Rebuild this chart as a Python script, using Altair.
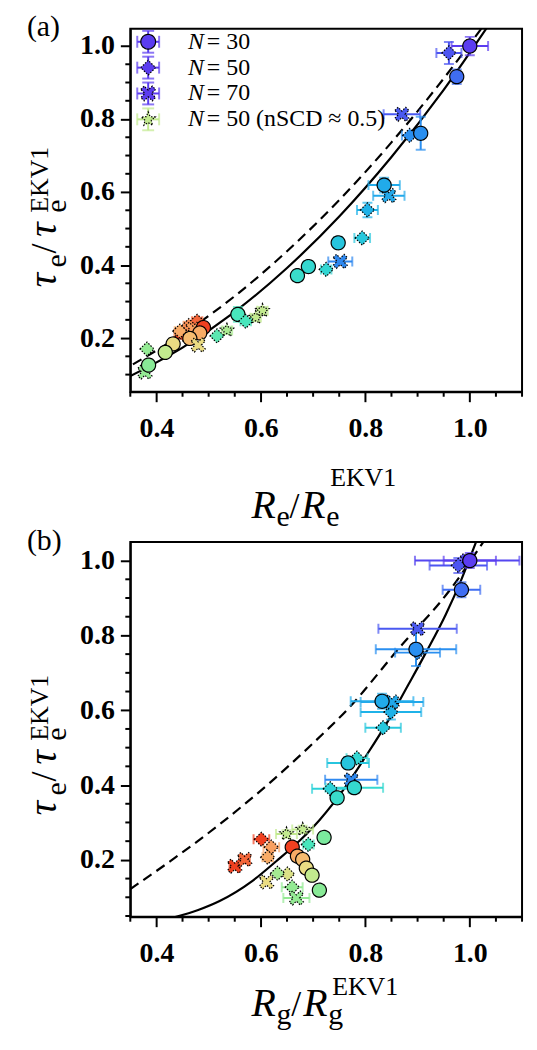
import altair as alt
import pandas as pd

FONT = "Liberation Serif"

# ---------------- panel (a): tau_e vs R_e ----------------
A_TYPE = ["c30", "d50", "c30", "x70", "d50", "c30", "x70", "c30", "d50", "d50", "c30", "x70",
          "d50", "c30", "c30", "s50", "s50", "c30", "d50", "s50", "d50", "x70", "d50", "d50",
          "d50", "x70", "c30", "c30", "c30", "x70", "c30", "c30", "d50", "x70", "c30"]
A_C = [0.00, 0.05, 0.10, 0.06, 0.20, 0.20, 0.27, 0.28, 0.30, 0.37, 0.36, 0.18,
       0.42, 0.43, 0.45, 0.70, 0.70, 0.50, 0.50, 0.66, 0.53, 1.00, 0.96, 0.92,
       0.88, 0.90, 1.00, 0.88, 0.85, 0.78, 0.78, 0.70, 0.62, 0.62, 0.60]
A_R = [1.000, 0.960, 0.975, 0.870, 0.885, 0.906, 0.845, 0.836, 0.804, 0.794, 0.748, 0.752,
       0.725, 0.691, 0.670, 0.603, 0.590, 0.556, 0.571, 0.535, 0.516, 0.445, 0.478, 0.462,
       0.445, 0.470, 0.490, 0.483, 0.464, 0.480, 0.432, 0.417, 0.382, 0.378, 0.385]
A_TAU = [1.000, 0.981, 0.916, 0.813, 0.755, 0.761, 0.590, 0.619, 0.551, 0.474, 0.461, 0.410,
         0.388, 0.396, 0.371, 0.275, 0.256, 0.265, 0.246, 0.221, 0.206, 0.209, 0.246, 0.234,
         0.219, 0.224, 0.229, 0.214, 0.199, 0.181, 0.184, 0.161, 0.170, 0.107, 0.126]
A_XERR = [0.035, 0.024, 0.000, 0.035, 0.015, 0.000, 0.030, 0.030, 0.020, 0.015, 0.000, 0.023,
          0.010, 0.010, 0.000, 0.010, 0.010, 0.010, 0.010, 0.010, 0.000, 0.010, 0.010, 0.010,
          0.010, 0.010, 0.000, 0.000, 0.000, 0.000, 0.000, 0.000, 0.000, 0.000, 0.010]
A_YERR = [0.025, 0.030, 0.020, 0.000, 0.000, 0.045, 0.000, 0.020, 0.020, 0.000, 0.015, 0.000,
          0.000, 0.015, 0.000, 0.010, 0.010, 0.020, 0.000, 0.010, 0.000, 0.010, 0.010, 0.010,
          0.010, 0.010, 0.000, 0.000, 0.000, 0.000, 0.000, 0.000, 0.000, 0.000, 0.010]

A_SOLID_R = [0.35, 0.45, 0.55, 0.65, 0.75, 0.85, 0.95, 1.035]
A_SOLID_TAU = [0.096, 0.174, 0.272, 0.392, 0.533, 0.696, 0.880, 1.055]
A_DASH_R = [0.355, 0.45, 0.55, 0.65, 0.75, 0.85, 0.95, 1.025]
A_DASH_TAU = [0.128, 0.211, 0.315, 0.438, 0.578, 0.736, 0.911, 1.053]

# ---------------- panel (b): tau_e vs R_g ----------------
B_TYPE = ["x70", "d50", "c30", "c30", "x70", "d50", "c30", "d50", "x70", "c30", "d50", "d50",
          "c30", "x70", "c30", "d50", "c30", "s50", "s50", "c30", "d50", "d50", "x70", "x70",
          "d50", "d50", "c30", "c30", "c30", "c30", "c30", "c30", "d50", "d50", "x70", "d50", "x70"]
B_C = [0.02, 0.05, 0.00, 0.10, 0.06, 0.20, 0.20, 0.30, 0.27, 0.28, 0.37, 0.42,
       0.36, 0.18, 0.43, 0.40, 0.45, 0.70, 0.70, 0.58, 0.50, 1.00, 1.00, 0.96,
       0.90, 0.88, 1.00, 0.88, 0.85, 0.78, 0.70, 0.60, 0.75, 0.65, 0.78, 0.62, 0.62]
B_R = [0.995, 0.978, 1.000, 0.984, 0.900, 0.900, 0.897, 0.849, 0.851, 0.832, 0.834, 0.784,
       0.767, 0.773, 0.779, 0.733, 0.746, 0.680, 0.649, 0.721, 0.691, 0.601, 0.550, 0.569,
       0.620, 0.613, 0.660, 0.670, 0.680, 0.687, 0.698, 0.712, 0.651, 0.632, 0.611, 0.660, 0.668]
B_TAU = [1.000, 0.987, 1.000, 0.922, 0.818, 0.754, 0.763, 0.595, 0.622, 0.624, 0.553, 0.472,
         0.459, 0.414, 0.393, 0.390, 0.366, 0.281, 0.269, 0.260, 0.241, 0.255, 0.183, 0.201,
         0.234, 0.207, 0.234, 0.210, 0.201, 0.178, 0.159, 0.119, 0.162, 0.164, 0.141, 0.127, 0.098]
B_XERR = [0.100, 0.055, 0.050, 0.036, 0.075, 0.043, 0.077, 0.058, 0.060, 0.060, 0.034, 0.020,
          0.040, 0.050, 0.055, 0.035, 0.000, 0.020, 0.020, 0.010, 0.010, 0.015, 0.010, 0.010,
          0.015, 0.010, 0.000, 0.000, 0.000, 0.000, 0.000, 0.000, 0.000, 0.000, 0.000, 0.020, 0.025]
B_YERR = [0.000, 0.020, 0.020, 0.020, 0.000, 0.000, 0.045, 0.020, 0.000, 0.020, 0.000, 0.000,
          0.015, 0.000, 0.015, 0.000, 0.000, 0.010, 0.010, 0.010, 0.000, 0.000, 0.000, 0.010,
          0.010, 0.010, 0.000, 0.000, 0.000, 0.000, 0.000, 0.000, 0.000, 0.000, 0.000, 0.000, 0.000]

B_SOLID_R = [0.436, 0.48, 0.521, 0.584, 0.63, 0.674, 0.712, 0.763, 0.80, 0.845, 0.883, 0.916, 0.954, 0.984, 1.012]
B_SOLID_TAU = [0.047, 0.066, 0.090, 0.144, 0.197, 0.251, 0.306, 0.397, 0.475, 0.575, 0.670, 0.754, 0.856, 0.950, 1.050]
B_DASH_R = [0.35, 0.426, 0.521, 0.617, 0.70, 0.769, 0.864, 0.96, 1.026]
B_DASH_TAU = [0.122, 0.196, 0.295, 0.406, 0.512, 0.607, 0.765, 0.918, 1.050]

# ---------------- legend ----------------
LEG_TYPE = ["c30", "d50", "x70", "s50"]
LEG_C = [0.0, 0.0, 0.0, 0.70]
LEG_ROW = [0, 1, 2, 3]
LEG_N = ["N", "N", "N", "N"]
LEG_REST = ["= 30", "= 50", "= 70", "= 50 (nSCD \u2248 0.5)"]

X_TICKS = [0.4, 0.6, 0.8, 1.0]
Y_TICKS = [0.2, 0.4, 0.6, 0.8, 1.0]
X_MINOR = [0.35, 0.45, 0.5, 0.55, 0.65, 0.7, 0.75, 0.85, 0.9, 0.95, 1.05, 1.1]
Y_MINOR = [0.05, 0.1, 0.15, 0.25, 0.3, 0.35, 0.45, 0.5, 0.55, 0.65, 0.7, 0.75, 0.85, 0.9, 0.95]

# ---------------- styling ----------------
TYPES = ["c30", "d50", "x70", "s50"]
X_PATH = "M-1,-0.55L-0.55,-1L0,-0.45L0.55,-1L1,-0.55L0.45,0L1,0.55L0.55,1L0,0.45L-0.55,1L-1,0.55L-0.45,0Z"
STAR_PATH = ("M0,-1L0.26,-0.36L0.951,-0.309L0.42,0.137L0.588,0.809L0,0.44L-0.588,0.809"
             "L-0.42,0.137L-0.951,-0.309L-0.26,-0.36Z")
SHAPES = ["circle", "diamond", X_PATH, STAR_PATH]
DASHES = [[1, 0], [1.5, 1.5], [1.5, 1.5], [1.5, 1.5]]
C_STOPS = [0.0, 0.1, 0.2, 0.3, 0.4, 0.5, 0.6, 0.7, 0.8, 0.9, 1.0]
C_COLORS = ["#5b3cf0", "#3f6df2", "#2a8ff0", "#1fb2e8", "#2cd2d8", "#48e6bc",
            "#88ea96", "#c2ea8e", "#f4d880", "#f8a060", "#f04020"]

color_scale = alt.Scale(domain=C_STOPS, range=C_COLORS, interpolate="rgb")
shape_scale = alt.Scale(domain=TYPES, range=SHAPES)
dash_scale = alt.Scale(domain=TYPES, range=DASHES)
XDOM = [0.35, 1.1]
W = 394


def make_points(types, cs, rs, taus, xerrs, yerrs):
    df = pd.DataFrame({"type": types, "c": cs, "R": rs, "tau": taus, "xerr": xerrs, "yerr": yerrs})
    df["xlo"] = df["R"] - df["xerr"]
    df["xhi"] = df["R"] + df["xerr"]
    df["ylo"] = df["tau"] - df["yerr"]
    df["yhi"] = df["tau"] + df["yerr"]
    return df


def text_piece(s, x, y, size, italic=False, angle=0, bold=False, baseline="alphabetic"):
    kw = dict(font=FONT, fontSize=size, fontStyle="italic" if italic else "normal",
              fontWeight="bold" if bold else "normal", align="left", baseline=baseline,
              color="black")
    if angle:
        kw["angle"] = angle
    return alt.Chart(pd.DataFrame({"k": [0]})).mark_text(**kw).encode(
        x=alt.value(x), y=alt.value(y), text=alt.value(s))


def panel(df, sR, sT, dR, dT, ydom, H, label, label_y, sub, xt_base, xt_sup, yt_start, legend=False):
    xs = alt.Scale(domain=XDOM, nice=False, zero=False)
    ys = alt.Scale(domain=ydom, nice=False, zero=False)
    xax = alt.Axis(values=X_TICKS, format=".1f", title=None, grid=False, labelFlush=False)
    yax = alt.Axis(values=Y_TICKS, format=".1f", title=None, grid=False, labelFlush=False)
    col = alt.Color("c:Q", scale=color_scale, legend=None)

    def X(f):
        return alt.X(f, scale=xs, axis=xax)

    def Y(f, main=False):
        if legend and not main:
            return alt.Y(f, scale=ys, axis=None)
        return alt.Y(f, scale=ys, axis=yax)

    base = alt.Chart(df)
    solid = alt.Chart(pd.DataFrame({"R": sR, "tau": sT})).mark_line(
        color="black", strokeWidth=2.2, interpolate="monotone", clip=True).encode(
        x=X("R:Q"), y=Y("tau:Q"))
    dashed = alt.Chart(pd.DataFrame({"R": dR, "tau": dT})).mark_line(
        color="black", strokeWidth=2.2, strokeDash=[10, 6], interpolate="monotone", clip=True).encode(
        x=X("R:Q"), y=Y("tau:Q"))

    xe = base.transform_filter("datum.xerr > 0")
    ye = base.transform_filter("datum.yerr > 0")
    hbar = xe.mark_rule(strokeWidth=2, clip=True).encode(x=X("xlo:Q"), x2="xhi:Q", y=Y("tau:Q"), color=col)
    hcap1 = xe.mark_tick(orient="vertical", size=10, thickness=2, clip=True).encode(x=X("xlo:Q"), y=Y("tau:Q"), color=col)
    hcap2 = xe.mark_tick(orient="vertical", size=10, thickness=2, clip=True).encode(x=X("xhi:Q"), y=Y("tau:Q"), color=col)
    vbar = ye.mark_rule(strokeWidth=2, clip=True).encode(x=X("R:Q"), y=Y("ylo:Q"), y2="yhi:Q", color=col)
    vcap1 = ye.mark_tick(orient="horizontal", size=10, thickness=2, clip=True).encode(x=X("R:Q"), y=Y("ylo:Q"), color=col)
    vcap2 = ye.mark_tick(orient="horizontal", size=10, thickness=2, clip=True).encode(x=X("R:Q"), y=Y("yhi:Q"), color=col)

    pts = base.mark_point(filled=True, size=200, stroke="black", strokeWidth=1.2, opacity=1).encode(
        x=X("R:Q"), y=Y("tau:Q", main=True),
        fill=alt.Fill("c:Q", scale=color_scale, legend=None),
        shape=alt.Shape("type:N", scale=shape_scale, legend=None),
        strokeDash=alt.StrokeDash("type:N", scale=dash_scale, legend=None))

    xminor = alt.Chart(pd.DataFrame({"R": X_MINOR})).mark_rule(color="black", strokeWidth=2).encode(
        x=X("R:Q"), y=alt.value(H), y2=alt.value(H + 5))
    yminor = alt.Chart(pd.DataFrame({"tau": [v for v in Y_MINOR if ydom[0] <= v <= ydom[1]]})).mark_rule(
        color="black", strokeWidth=2).encode(y=Y("tau:Q"), x=alt.value(-5), x2=alt.value(0))

    layers = [solid, dashed, hbar, hcap1, hcap2, vbar, vcap1, vcap2, pts, xminor, yminor]

    if legend:
        ldf = pd.DataFrame({"type": LEG_TYPE, "c": LEG_C, "row": LEG_ROW, "n": LEG_N, "rest": LEG_REST})
        lb = alt.Chart(ldf)
        ry = alt.Y("row:Q", scale=alt.Scale(domain=[0, 3], range=[13, 91]), axis=None)
        layers += [
            lb.mark_rule(strokeWidth=2).encode(x=alt.value(7), x2=alt.value(29), y=ry, color=col),
            lb.mark_tick(orient="vertical", size=12, thickness=2).encode(x=alt.value(7), y=ry, color=col),
            lb.mark_tick(orient="vertical", size=12, thickness=2).encode(x=alt.value(29), y=ry, color=col),
            lb.mark_rule(strokeWidth=2, yOffset=-11, y2Offset=11).encode(x=alt.value(18), y=ry, y2="row:Q", color=col),
            lb.mark_tick(orient="horizontal", size=12, thickness=2, yOffset=-11).encode(x=alt.value(18), y=ry, color=col),
            lb.mark_tick(orient="horizontal", size=12, thickness=2, yOffset=11).encode(x=alt.value(18), y=ry, color=col),
            lb.mark_point(filled=True, size=220, stroke="black", strokeWidth=1.2, opacity=1).encode(
                x=alt.value(18), y=ry,
                fill=alt.Fill("c:Q", scale=color_scale, legend=None),
                shape=alt.Shape("type:N", scale=shape_scale, legend=None),
                strokeDash=alt.StrokeDash("type:N", scale=dash_scale, legend=None)),
            lb.mark_text(font=FONT, fontSize=24, fontStyle="italic", align="left", baseline="middle",
                         color="black").encode(x=alt.value(58), y=ry, text="n:N"),
            lb.mark_text(font=FONT, fontSize=24, align="left", baseline="middle",
                         color="black").encode(x=alt.value(77), y=ry, text="rest:N"),
        ]

    # panel label
    layers.append(text_piece(label, -104, label_y, 30))
    # x-axis title  R_sub / R_sub ^EKV1
    sub_w = 13 if sub == "e" else 15
    layers += [
        text_piece("R", 122, H + xt_base, 40, italic=True),
        text_piece(sub, 147, H + xt_base + 8, 30),
        text_piece("/", 147 + sub_w, H + xt_base, 36),
        text_piece("R", 159 + sub_w, H + xt_base, 40, italic=True),
        text_piece(sub, 184 + sub_w, H + xt_base + 8, 30),
        text_piece("EKV1", 188 + sub_w, H + xt_sup, 26),
    ]
    # y-axis title  tau_e / tau_e ^EKV1 (rotated)
    s0 = yt_start
    layers += [
        text_piece("\u03c4", -75, s0, 40, italic=True, angle=270),
        text_piece("e", -65, s0 - 20, 30, angle=270),
        text_piece("/", -75, s0 - 34, 36, angle=270),
        text_piece("\u03c4", -75, s0 - 51, 40, italic=True, angle=270),
        text_piece("e", -65, s0 - 75, 30, angle=270),
        text_piece("EKV1", -83, s0 - 75, 26, angle=270),
    ]

    ch = alt.layer(*layers).properties(width=W, height=H)
    if legend:
        ch = ch.resolve_scale(y="independent")
    return ch


df_a = make_points(A_TYPE, A_C, A_R, A_TAU, A_XERR, A_YERR)
df_b = make_points(B_TYPE, B_C, B_R, B_TAU, B_XERR, B_YERR)

pa = panel(df_a, A_SOLID_R, A_SOLID_TAU, A_DASH_R, A_DASH_TAU, [0.053, 1.047], 365,
           "(a)", 7, "e", 127, 95, 260, legend=True)
pb = panel(df_b, B_SOLID_R, B_SOLID_TAU, B_DASH_R, B_DASH_TAU, [0.048, 1.05], 377,
           "(b)", 8, "g", 100, 79, 275)

chart = alt.vconcat(pa, pb, spacing=151, bounds="flush").properties(
    padding={"left": 15, "top": 0, "right": 5, "bottom": 5},
    background="white",
).configure_view(stroke="black", strokeWidth=2).configure_axis(
    labelFont=FONT, labelFontWeight="bold", labelFontSize=28, labelColor="black",
    tickColor="black", tickWidth=2, tickSize=10, domainColor="black", domainWidth=2,
    grid=False,
).configure_axisX(labelPadding=13).configure_axisY(labelPadding=6)

chart.save("out.html", embed_options={"renderer": "svg", "actions": False})
